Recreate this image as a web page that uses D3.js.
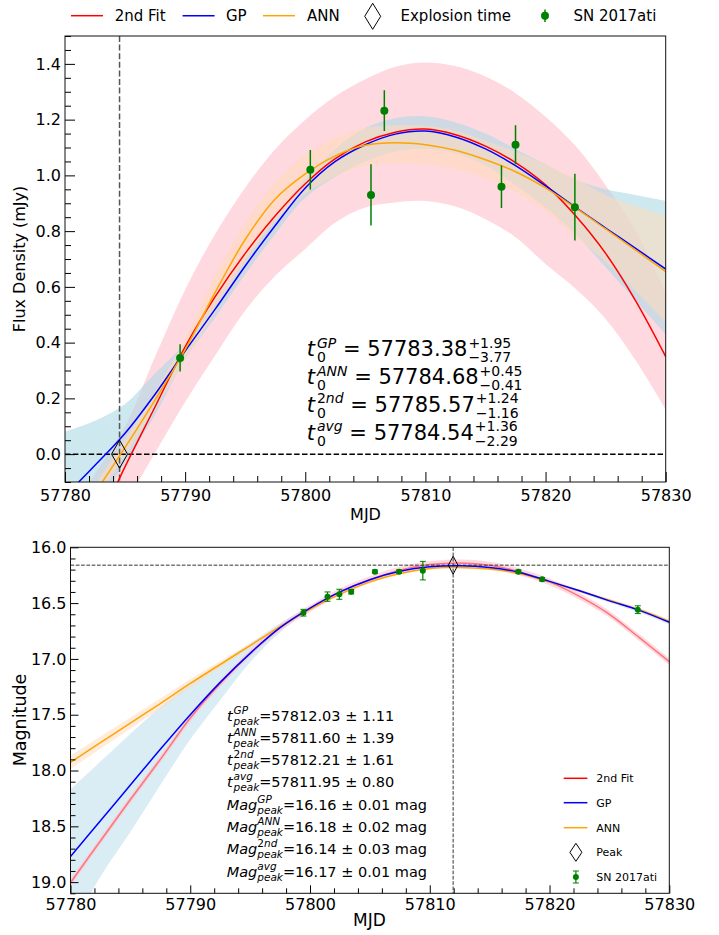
<!DOCTYPE html>
<html><head><meta charset="utf-8">
<script src="https://cdn.jsdelivr.net/npm/d3@7"></script>
<style>
body{margin:0;background:#fff;}
svg text{font-family:"DejaVu Sans",sans-serif;fill:#000;}
</style></head><body>
<svg id="chart" width="719" height="935" style="background:#fff"></svg>
<script>
// ---------------- DATA ----------------
const mjdGrid = [57780, 57782.5, 57785, 57787.5, 57790, 57792.5, 57795, 57797.5, 57800, 57802.5, 57805, 57807.5, 57810, 57812.5, 57815, 57817.5, 57820, 57822.5, 57825, 57827.5, 57830];

// Top panel: flux density (mJy)
const fluxFit2nd   = [-0.44, -0.27, -0.045, 0.17, 0.385, 0.565, 0.72, 0.855, 0.97, 1.06, 1.12, 1.155, 1.166, 1.146, 1.105, 1.046, 0.966, 0.855, 0.72, 0.55, 0.35];
const fluxFit2ndLo = [-0.52, -0.35, -0.18, 0.005, 0.187, 0.354, 0.515, 0.64, 0.736, 0.831, 0.885, 0.903, 0.908, 0.888, 0.843, 0.778, 0.682, 0.593, 0.485, 0.336, 0.16];
const fluxFit2ndHi = [-0.25, -0.07, 0.1, 0.35, 0.59, 0.79, 0.956, 1.094, 1.2, 1.284, 1.345, 1.39, 1.405, 1.392, 1.355, 1.295, 1.21, 1.105, 0.965, 0.8, 0.58];
const fluxGP   = [-0.15, -0.04, 0.075, 0.215, 0.37, 0.52, 0.675, 0.82, 0.955, 1.05, 1.11, 1.148, 1.159, 1.138, 1.095, 1.035, 0.962, 0.885, 0.811, 0.738, 0.664];
const fluxGPLo = [-0.38, -0.2, -0.03, 0.14, 0.34, 0.49, 0.645, 0.79, 0.92, 0.995, 1.05, 1.085, 1.095, 1.08, 1.035, 0.965, 0.885, 0.79, 0.67, 0.55, 0.43];
const fluxGPHi = [0.081, 0.12, 0.18, 0.29, 0.40, 0.55, 0.705, 0.85, 0.99, 1.095, 1.17, 1.205, 1.212, 1.19, 1.15, 1.095, 1.04, 0.985, 0.95, 0.93, 0.909];
const fluxANN   = [-0.31, -0.14, 0.024, 0.195, 0.375, 0.58, 0.77, 0.915, 1.005, 1.07, 1.108, 1.117, 1.11, 1.09, 1.056, 1.013, 0.955, 0.883, 0.808, 0.732, 0.655];
const fluxANNLo = [-0.34, -0.17, -0.005, 0.165, 0.335, 0.51, 0.69, 0.835, 0.935, 0.995, 1.035, 1.042, 1.04, 1.022, 0.99, 0.94, 0.87, 0.78, 0.69, 0.585, 0.473];
const fluxANNHi = [-0.28, -0.11, 0.053, 0.225, 0.415, 0.64, 0.83, 0.975, 1.075, 1.135, 1.17, 1.18, 1.178, 1.16, 1.125, 1.085, 1.04, 0.99, 0.93, 0.89, 0.855];

const obsFluxMJD = [57789.58, 57800.42, 57805.47, 57806.58, 57816.33, 57817.50, 57822.44];
const obsFlux    = [0.345, 1.020, 0.930, 1.232, 0.959, 1.110, 0.886];
const obsFluxErr = [0.049, 0.071, 0.110, 0.073, 0.076, 0.070, 0.120];
const explosionMJD = 57784.54;

// Bottom panel: magnitude
const magFit2nd   = [19.005, 18.63, 18.26, 17.90, 17.53, 17.22, 16.95, 16.72, 16.55, 16.40, 16.29, 16.205, 16.155, 16.14, 16.16, 16.22, 16.31, 16.44, 16.60, 16.81, 17.025];
const magFit2ndLo = [18.975, 18.60, 18.23, 17.87, 17.50, 17.19, 16.92, 16.69, 16.52, 16.37, 16.26, 16.175, 16.125, 16.11, 16.13, 16.19, 16.28, 16.41, 16.57, 16.78, 16.995];
const magFit2ndHi = [19.035, 18.66, 18.29, 17.93, 17.56, 17.25, 16.98, 16.75, 16.58, 16.43, 16.32, 16.235, 16.185, 16.17, 16.19, 16.25, 16.34, 16.47, 16.63, 16.84, 17.055];
const magGP   = [18.77, 18.45, 18.13, 17.81, 17.50, 17.21, 16.95, 16.72, 16.545, 16.40, 16.29, 16.215, 16.175, 16.165, 16.18, 16.225, 16.305, 16.39, 16.48, 16.565, 16.672];
const magGPLo = [18.17, 17.92, 17.67, 17.43, 17.22, 17.04, 16.86, 16.68, 16.53, 16.39, 16.28, 16.205, 16.165, 16.155, 16.17, 16.215, 16.29, 16.375, 16.465, 16.545, 16.65];
const magGPHi = [19.45, 18.95, 18.55, 18.13, 17.72, 17.37, 17.03, 16.76, 16.56, 16.41, 16.30, 16.225, 16.185, 16.175, 16.19, 16.235, 16.32, 16.405, 16.495, 16.585, 16.694];
const magANN   = [17.926, 17.75, 17.575, 17.40, 17.22, 17.05, 16.88, 16.71, 16.555, 16.42, 16.31, 16.235, 16.19, 16.18, 16.195, 16.235, 16.31, 16.39, 16.475, 16.56, 16.665];
const magANNLo = [17.866, 17.695, 17.525, 17.355, 17.18, 17.02, 16.86, 16.698, 16.545, 16.41, 16.30, 16.225, 16.18, 16.17, 16.185, 16.225, 16.298, 16.375, 16.46, 16.543, 16.645];
const magANNHi = [17.986, 17.805, 17.625, 17.445, 17.26, 17.08, 16.90, 16.722, 16.565, 16.43, 16.32, 16.245, 16.20, 16.19, 16.205, 16.245, 16.322, 16.405, 16.49, 16.577, 16.685];

const obsMagMJD = [57799.45, 57801.46, 57802.45, 57803.44, 57805.42, 57807.43, 57809.42, 57817.40, 57819.38, 57827.37];
const obsMag    = [16.586, 16.442, 16.421, 16.398, 16.218, 16.218, 16.209, 16.218, 16.287, 16.559];
const obsMagErr = [0.030, 0.042, 0.045, 0.020, 0.015, 0.015, 0.083, 0.015, 0.015, 0.035];
const peakMJD = 57811.95;
const peakMag = 16.16;

// Tick labels
const xTicks = [57780, 57790, 57800, 57810, 57820, 57830];
const fluxTicks = [0.0, 0.2, 0.4, 0.6, 0.8, 1.0, 1.2, 1.4];
const magTicks = [16.0, 16.5, 17.0, 17.5, 18.0, 18.5, 19.0];

// Legend / annotation texts
const legendLabels = ["2nd Fit", "GP", "ANN", "Explosion time", "SN 2017ati"];
const legendLabels2 = ["2nd Fit", "GP", "ANN", "Peak", "SN 2017ati"];
const t0Keys = [[["GP", true]], [["ANN", true]], [["2", false], ["nd", true]], [["avg", true]]];
const t0Vals = ["57783.38", "57784.68", "57785.57", "57784.54"];
const t0Plus = ["+1.95", "+0.45", "+1.24", "+1.36"];
const t0Minus = ["\u22123.77", "\u22120.41", "\u22121.16", "\u22122.29"];
const tPeakVals = ["57812.03 \u00b1 1.11", "57811.60 \u00b1 1.39", "57812.21 \u00b1 1.61", "57811.95 \u00b1 0.80"];
const magPeakVals = ["16.16 \u00b1 0.01 mag", "16.18 \u00b1 0.02 mag", "16.14 \u00b1 0.03 mag", "16.17 \u00b1 0.01 mag"];

// ---------------- DRAW ----------------
const svg = d3.select("#chart");
const defs = svg.append("defs");
const idx = d3.range(mjdGrid.length);
const RED = "#ff0000", BLUE = "#0000ff", ORANGE = "#ffa500", GREEN = "#008000";

function bandPath(x, y, lo, hi) {
  return d3.area().x(i => x(mjdGrid[i])).y0(i => y(lo[i])).y1(i => y(hi[i])).curve(d3.curveCatmullRom)(idx);
}
function linePath(x, y, v) {
  return d3.line().x(i => x(mjdGrid[i])).y(i => y(v[i])).curve(d3.curveCatmullRom)(idx);
}
function diamond(cx, cy, hw, hh) {
  return `M${cx},${cy - hh}L${cx + hw},${cy}L${cx},${cy + hh}L${cx - hw},${cy}Z`;
}
function runs(sel, parts) {
  const arr = typeof parts === "string" ? [[parts, false]] : parts;
  arr.forEach(([s, it]) => sel.append("tspan").style("font-style", it ? "italic" : "normal").text(s));
}
function mathLine(g, x, y, items, big, small, supDy, subDy) {
  let cx = x;
  for (const it of items) {
    if (it.t) {
      const el = g.append("text").attr("x", cx).attr("y", y).attr("font-size", big).style("white-space", "pre");
      runs(el, it.t);
      cx += el.node().getComputedTextLength() + (it.gap || 0);
    } else {
      let w = 0;
      for (const [key, dy] of [["sup", supDy], ["sub", subDy]]) {
        if (!it[key]) continue;
        const el = g.append("text").attr("x", cx).attr("y", y + dy).attr("font-size", small).style("white-space", "pre");
        runs(el, it[key]);
        w = Math.max(w, el.node().getComputedTextLength());
      }
      cx += w + (it.gap || 0);
    }
  }
}
function axes(g, x, y, P, yTicks, yFmt, major, minor, minorStepX, minorStepY, fs, padX, padY) {
  const minorX = d3.range(x.domain()[0], x.domain()[1] + 1e-9, minorStepX).filter(v => !xTicks.includes(v));
  const yd = y.domain().slice().sort((a, b) => a - b);
  const minorY = d3.range(Math.ceil(yd[0] / minorStepY - 1e-9) * minorStepY, yd[1] + 1e-9, minorStepY)
    .map(v => +v.toFixed(3)).filter(v => !yTicks.some(t => Math.abs(t - v) < 1e-6));
  const gx = g.append("g").attr("transform", `translate(0,${P.b})`)
    .call(d3.axisBottom(x).tickValues(xTicks).tickFormat(d3.format("d")).tickSizeInner(-major).tickSizeOuter(0).tickPadding(padX));
  const gxm = g.append("g").attr("transform", `translate(0,${P.b})`)
    .call(d3.axisBottom(x).tickValues(minorX).tickFormat("").tickSizeInner(-minor).tickSizeOuter(0));
  const gy = g.append("g").attr("transform", `translate(${P.l},0)`)
    .call(d3.axisLeft(y).tickValues(yTicks).tickFormat(yFmt).tickSizeInner(-major).tickSizeOuter(0).tickPadding(padY));
  const gym = g.append("g").attr("transform", `translate(${P.l},0)`)
    .call(d3.axisLeft(y).tickValues(minorY).tickFormat("").tickSizeInner(-minor).tickSizeOuter(0));
  [gx, gxm, gy, gym].forEach(a => {
    a.select(".domain").remove();
    a.selectAll("line").attr("stroke", "#000").attr("stroke-width", 1);
    a.selectAll("text").attr("font-size", fs).attr("font-family", "DejaVu Sans").attr("fill", "#000");
  });
  g.append("rect").attr("x", P.l).attr("y", P.t).attr("width", P.r - P.l).attr("height", P.b - P.t)
    .attr("fill", "none").attr("stroke", "#111").attr("stroke-width", 1);
}

// ===== TOP PANEL =====
const T = {l: 65, r: 665.7, t: 36, b: 482};
const xT = d3.scaleLinear().domain([57780, 57830]).range([T.l, T.r]);
const yT = d3.scaleLinear().domain([-0.1, 1.5]).range([T.b, T.t]);
defs.append("clipPath").attr("id", "clipT").append("rect")
  .attr("x", T.l).attr("y", T.t).attr("width", T.r - T.l).attr("height", T.b - T.t);
const gT = svg.append("g");
const pT = gT.append("g").attr("clip-path", "url(#clipT)");

pT.append("path").attr("d", bandPath(xT, yT, fluxFit2ndLo, fluxFit2ndHi)).attr("fill", "#ffc0cb").attr("fill-opacity", 0.6);
pT.append("path").attr("d", bandPath(xT, yT, fluxGPLo, fluxGPHi)).attr("fill", "#add8e6").attr("fill-opacity", 0.6);
pT.append("path").attr("d", bandPath(xT, yT, fluxANNLo, fluxANNHi)).attr("fill", "#ffdab9").attr("fill-opacity", 0.55);

pT.append("line").attr("x1", xT(explosionMJD)).attr("x2", xT(explosionMJD)).attr("y1", T.t).attr("y2", T.b)
  .attr("stroke", "#555").attr("stroke-width", 1.5).attr("stroke-dasharray", "6,2.6");
pT.append("line").attr("x1", T.l).attr("x2", T.r).attr("y1", yT(0)).attr("y2", yT(0))
  .attr("stroke", "#000").attr("stroke-width", 1.5).attr("stroke-dasharray", "5.5,2.4");

pT.append("path").attr("d", linePath(xT, yT, fluxFit2nd)).attr("fill", "none").attr("stroke", RED).attr("stroke-width", 1.5);
pT.append("path").attr("d", linePath(xT, yT, fluxGP)).attr("fill", "none").attr("stroke", BLUE).attr("stroke-width", 1.5);
pT.append("path").attr("d", linePath(xT, yT, fluxANN)).attr("fill", "none").attr("stroke", ORANGE).attr("stroke-width", 1.5);

pT.append("path").attr("d", diamond(xT(explosionMJD), yT(0), 8, 14))
  .attr("fill", "none").attr("stroke", "#000").attr("stroke-width", 1);

const ptsT = pT.append("g");
obsFluxMJD.forEach((m, i) => {
  ptsT.append("line").attr("x1", xT(m)).attr("x2", xT(m))
    .attr("y1", yT(obsFlux[i] - obsFluxErr[i])).attr("y2", yT(obsFlux[i] + obsFluxErr[i]))
    .attr("stroke", GREEN).attr("stroke-width", 1.5);
  ptsT.append("circle").attr("cx", xT(m)).attr("cy", yT(obsFlux[i])).attr("r", 4).attr("fill", GREEN);
});

axes(gT, xT, yT, T, fluxTicks, d3.format(".1f"), 10, 6, 2, 0.05, 16, 7.5, 4);

gT.append("text").attr("x", 365.5).attr("y", 520).attr("font-size", 16).attr("text-anchor", "middle").text("MJD");
gT.append("text").attr("transform", "translate(25,259) rotate(-90)").attr("font-size", 16)
  .attr("text-anchor", "middle").text("Flux Density (mJy)");

// t0 annotations
const t0Base = [356, 384, 411.5, 439.5];
t0Keys.forEach((k, i) => {
  mathLine(gT, 306.7, t0Base[i], [
    {t: [["t", true]], gap: 2},
    {sup: k, sub: "0"},
    {t: " = " + t0Vals[i], gap: 1},
    {sup: t0Plus[i], sub: t0Minus[i]}
  ], 21, 14, -8.5, 6);
});

// top legend
const legT = svg.append("g");
const lgY = 15.7;
[[71, RED], [182.6, BLUE], [263, ORANGE]].forEach(([x0, c]) => {
  legT.append("line").attr("x1", x0).attr("x2", x0 + 32).attr("y1", lgY).attr("y2", lgY).attr("stroke", c).attr("stroke-width", 1.5);
});
legT.append("path").attr("d", diamond(372.7, 16.3, 8, 13)).attr("fill", "none").attr("stroke", "#000").attr("stroke-width", 1);
legT.append("line").attr("x1", 545).attr("x2", 545).attr("y1", 9.5).attr("y2", 22).attr("stroke", GREEN).attr("stroke-width", 1.5);
legT.append("circle").attr("cx", 545).attr("cy", lgY).attr("r", 4).attr("fill", GREEN);
[114.7, 226, 307, 400.5, 573.4].forEach((x0, i) => {
  legT.append("text").attr("x", x0).attr("y", 21.3).attr("font-size", 15).text(legendLabels[i]);
});

// ===== BOTTOM PANEL =====
const B = {l: 70.5, r: 669.3, t: 547.3, b: 893.3};
const xB = d3.scaleLinear().domain([57780, 57830]).range([B.l, B.r]);
const yB = d3.scaleLinear().domain([16.0, 19.1]).range([B.t, B.b]);
defs.append("clipPath").attr("id", "clipB").append("rect")
  .attr("x", B.l).attr("y", B.t).attr("width", B.r - B.l).attr("height", B.b - B.t);
const gB = svg.append("g");
const pB = gB.append("g").attr("clip-path", "url(#clipB)");

pB.append("path").attr("d", bandPath(xB, yB, magGPLo, magGPHi)).attr("fill", "#add8e6").attr("fill-opacity", 0.45);
pB.append("path").attr("d", bandPath(xB, yB, magANNLo, magANNHi)).attr("fill", "#ffdab9").attr("fill-opacity", 0.5);
pB.append("path").attr("d", linePath(xB, yB, magFit2nd)).attr("fill", "none").attr("stroke", RED).attr("stroke-width", 1.5);
pB.append("path").attr("d", bandPath(xB, yB, magFit2ndLo, magFit2ndHi)).attr("fill", "#ffc0cb").attr("fill-opacity", 0.6);

pB.append("line").attr("x1", xB(peakMJD)).attr("x2", xB(peakMJD)).attr("y1", B.t).attr("y2", B.b)
  .attr("stroke", "#333").attr("stroke-width", 1).attr("stroke-dasharray", "3.7,1.6");
pB.append("line").attr("x1", B.l).attr("x2", B.r).attr("y1", yB(peakMag)).attr("y2", yB(peakMag))
  .attr("stroke", "#333").attr("stroke-width", 1).attr("stroke-dasharray", "3.7,1.6");

pB.append("path").attr("d", linePath(xB, yB, magANN)).attr("fill", "none").attr("stroke", ORANGE).attr("stroke-width", 1.5);
pB.append("path").attr("d", linePath(xB, yB, magGP)).attr("fill", "none").attr("stroke", BLUE).attr("stroke-width", 1.5);

const ptsB = pB.append("g");
obsMagMJD.forEach((m, i) => {
  const x0 = xB(m), y1 = yB(obsMag[i] - obsMagErr[i]), y2 = yB(obsMag[i] + obsMagErr[i]);
  ptsB.append("line").attr("x1", x0).attr("x2", x0).attr("y1", y1).attr("y2", y2).attr("stroke", GREEN).attr("stroke-width", 1.2);
  [y1, y2].forEach(yy => ptsB.append("line").attr("x1", x0 - 3).attr("x2", x0 + 3).attr("y1", yy).attr("y2", yy)
    .attr("stroke", GREEN).attr("stroke-width", 1));
  ptsB.append("circle").attr("cx", x0).attr("cy", yB(obsMag[i])).attr("r", 3).attr("fill", GREEN);
});

pB.append("path").attr("d", diamond(xB(peakMJD), yB(peakMag), 4.8, 9))
  .attr("fill", "none").attr("stroke", "#000").attr("stroke-width", 1);

axes(gB, xB, yB, B, magTicks, d3.format(".1f"), 8, 5, 2, 0.1, 16, 5.5, 4);

gB.append("text").attr("x", 369.5).attr("y", 926).attr("font-size", 17).attr("text-anchor", "middle").text("MJD");
gB.append("text").attr("transform", "translate(26,720) rotate(-90)").attr("font-size", 17.5)
  .attr("text-anchor", "middle").text("Magnitude");

// peak annotations
const annB = [720.7, 742.9, 765.1, 787.4, 809.7, 832, 854.2, 876.5];
t0Keys.forEach((k, i) => {
  mathLine(gB, 226.9, annB[i], [
    {t: [["t", true]], gap: 1},
    {sup: k, sub: [["peak", true]]},
    {t: "=" + tPeakVals[i]}
  ], 14.5, 10.5, -7, 4);
});
t0Keys.forEach((k, i) => {
  mathLine(gB, 226.7, annB[i + 4], [
    {t: [["Mag", true]]},
    {sup: k, sub: [["peak", true]]},
    {t: "=" + magPeakVals[i]}
  ], 14.5, 10.5, -7, 4);
});

// bottom legend
const legB = svg.append("g");
const rowsB = [778.3, 802.7, 827.7, 852.3, 877];
[RED, BLUE, ORANGE].forEach((c, i) => {
  legB.append("line").attr("x1", 563.7).attr("x2", 587.4).attr("y1", rowsB[i]).attr("y2", rowsB[i]).attr("stroke", c).attr("stroke-width", 1.5);
});
legB.append("path").attr("d", diamond(575.9, rowsB[3], 6, 9)).attr("fill", "none").attr("stroke", "#000").attr("stroke-width", 1);
legB.append("line").attr("x1", 575.9).attr("x2", 575.9).attr("y1", rowsB[4] - 6).attr("y2", rowsB[4] + 6).attr("stroke", GREEN).attr("stroke-width", 1.2);
[-6, 6].forEach(d => legB.append("line").attr("x1", 572.9).attr("x2", 578.9).attr("y1", rowsB[4] + d).attr("y2", rowsB[4] + d).attr("stroke", GREEN).attr("stroke-width", 1));
legB.append("circle").attr("cx", 575.9).attr("cy", rowsB[4]).attr("r", 3).attr("fill", GREEN);
legendLabels2.forEach((s, i) => {
  legB.append("text").attr("x", 596.2).attr("y", rowsB[i] + 4).attr("font-size", 11).text(s);
});
</script>
</body></html>
